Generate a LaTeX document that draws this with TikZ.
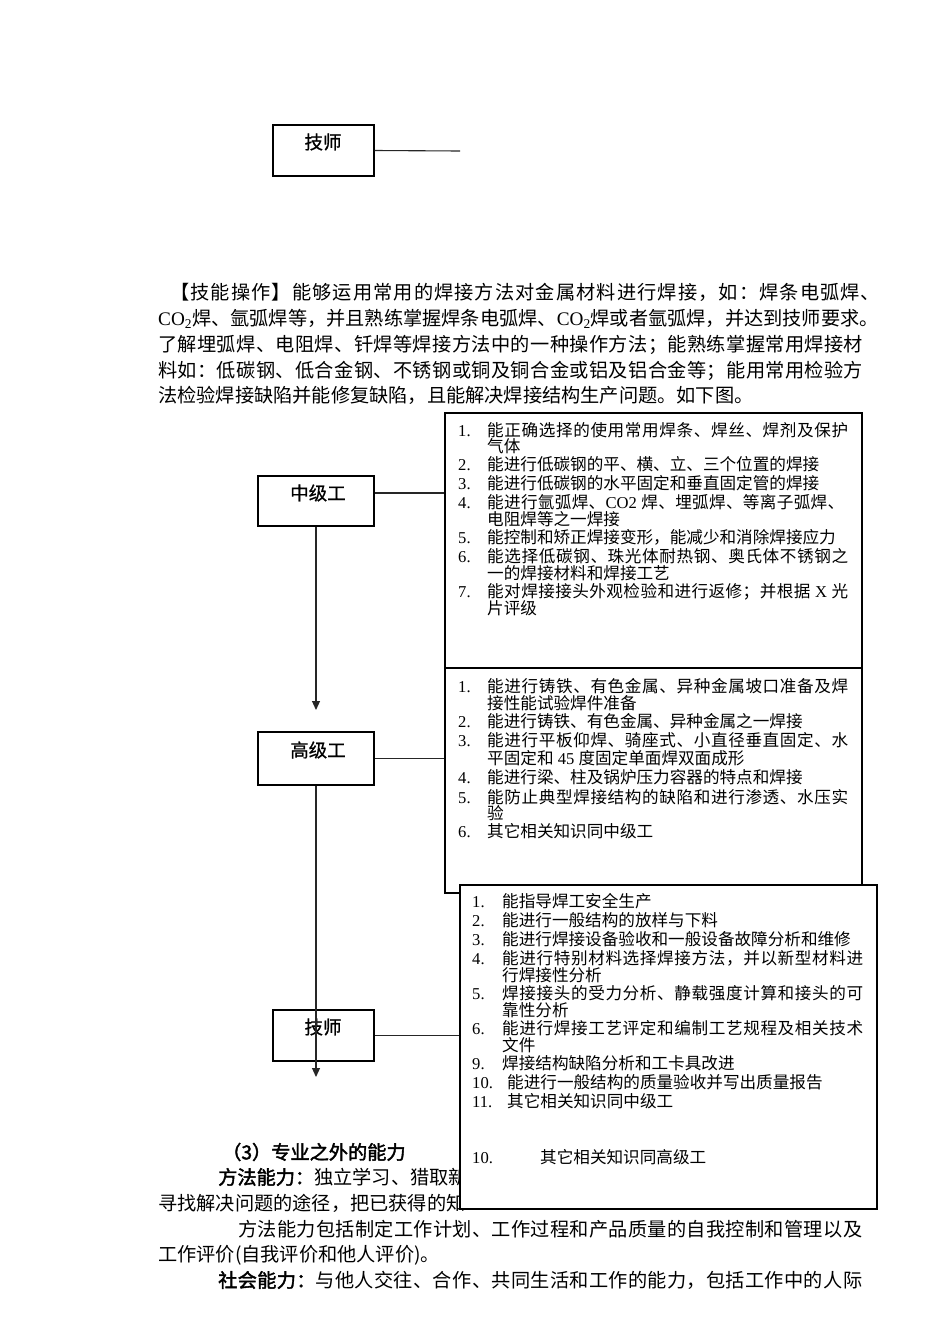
\documentclass[tikz,border=0pt]{standalone}
\usepackage{fontspec}
\setmainfont{Liberation Serif}
\newfontfamily\cjk{Noto Sans CJK SC}
\newfontfamily\cjkb[FakeBold=2]{Noto Sans CJK SC}
\newfontfamily\cjkl[FakeBold=0.7]{Noto Sans CJK SC}
\makeatletter
\newcommand\spreadto[2]{\hbox to #1{\@tfor\spr@c:=#2\do{{\spr@c}\hfil}\unskip}}
\makeatother
\usetikzlibrary{arrows.meta}
\tikzset{
  para/.style={anchor=base west, inner sep=0, font=\cjk\fontsize{19.2}{24}\selectfont},
  itm/.style={anchor=base west, inner sep=0, font=\cjk\fontsize{16.6}{20}\selectfont},
  num/.style={anchor=base west, inner sep=0, font=\rmfamily\fontsize{16.6}{20}\selectfont},
  lbl/.style={inner sep=0, font=\cjkl\fontsize{18.5}{22}\selectfont},
  box/.style={draw=black, line width=1.2pt, inner sep=0, fill=white},
  conn/.style={draw=black!85, line width=1.1pt},
  arr/.style={conn, -{Triangle[width=8pt,length=9pt]}}
}
\begin{document}
\begin{tikzpicture}[x=1pt,y=-1pt]
\useasboundingbox (0,0) rectangle (950,1344);
\fill[white] (0,0) rectangle (950,1344);

% top label box
\node[box, minimum width=101pt, minimum height=51pt] (t0) at (323.5,150.5) {};
\node[lbl] (t0l) at (323,142) {技师};
\coordinate (t0end) at (460,151);
\draw[conn] (t0.east) -- (t0end);

% paragraph
\node[para] (p1) at (170,299.3) {\spreadto{710pt}{【技能操作】能够运用常用的焊接方法对金属材料进行焊接，如：焊条电弧焊、}};
\node[para] (p2) at (158,325.3) {\spreadto{720pt}{{\rmfamily CO\textsubscript{2}}焊、氩弧焊等，并且熟练掌握焊条电弧焊、{\rmfamily CO\textsubscript{2}}焊或者氩弧焊，并达到技师要求。}};
\node[para] (p3) at (158,351.3) {\spreadto{705pt}{了解埋弧焊、电阻焊、钎焊等焊接方法中的一种操作方法；能熟练掌握常用焊接材}};
\node[para] (p4) at (158,377.3) {\spreadto{705pt}{料如：低碳钢、低合金钢、不锈钢或铜及铜合金或铝及铝合金等；能用常用检验方}};
\node[para] (p5) at (158,402.3) {法检验焊接缺陷并能修复缺陷，且能解决焊接结构生产问题。如下图。};

% lower text (partly hidden by box 3)
\node[para, font=\cjkb\fontsize{19.2}{24}\selectfont] (h3) at (222,1159.3) {（3）专业之外的能力};
\node[para] (q1) at (218,1184.3) {{\cjkb 方法能力：}独立学习、猎取新};
\node[para] (q2) at (158,1210.3) {寻找解决问题的途径，把已获得的知};
\node[para] (q3) at (238,1236.3) {\spreadto{624pt}{方法能力包括制定工作计划、工作过程和产品质量的自我控制和管理以及}};
\node[para] (q4) at (158,1261.3) {工作评价(自我评价和他人评价)。};
\node[para] (q5) at (218,1287.3) {\spreadto{644pt}{{\cjkb 社}{\cjkb 会}{\cjkb 能}{\cjkb 力}{\cjkb ：}与他人交往、合作、共同生活和工作的能力，包括工作中的人际}};

% level boxes
\node[box, fill=none, minimum width=116pt, minimum height=50pt] (mid) at (316,501) {};
\node[lbl] (midl) at (318,493) {中级工};
\node[box, fill=none, minimum width=116pt, minimum height=53pt] (hi) at (316,758.5) {};
\node[lbl] (hil) at (318,750) {高级工};
\node[box, fill=none, minimum width=101pt, minimum height=51pt] (t1) at (323.5,1035.5) {};
\node[lbl] (t1l) at (323,1027) {技师};

% right boxes
\node[box, minimum width=417pt, minimum height=255pt] (b1) at (653.5,540.5) {};
\node[box, minimum width=417pt, minimum height=225pt] (b2) at (653.5,780.5) {};
\node[box, minimum width=417pt, minimum height=324pt] (b3) at (668.5,1047) {};

% box 1 content
\foreach \y/\n [count=\k] in {430/1, 464/2, 483/3, 502/4, 537/5, 556/6, 591/7}
  \node[num] (b1n\k) at (458,\y+6.3) {\n.};
\foreach \y/\t [count=\k] in {
  430/{\spreadto{361pt}{能正确选择的使用常用焊条、焊丝、焊剂及保护}},
  446/{气体},
  464/{能进行低碳钢的平、横、立、三个位置的焊接},
  483/{能进行低碳钢的水平固定和垂直固定管的焊接},
  502/{\spreadto{357pt}{能进行氩弧焊、{\rmfamily CO2 }焊、埋弧焊、等离子弧焊、}},
  519/{电阻焊等之一焊接},
  537/{能控制和矫正焊接变形，能减少和消除焊接应力},
  556/{\spreadto{361pt}{能选择低碳钢、珠光体耐热钢、奥氏体不锈钢之}},
  573/{一的焊接材料和焊接工艺},
  591/{\spreadto{361pt}{能对焊接接头外观检验和进行返修；并根据{\rmfamily\ X }光}},
  608/{片评级}}
  \node[itm] (b1t\k) at (487,\y+6.3) {\t};

% box 2 content
\foreach \y/\n [count=\k] in {686/1, 721/2, 740/3, 777/4, 797/5, 831/6}
  \node[num] (b2n\k) at (458,\y+6.3) {\n.};
\foreach \y/\t [count=\k] in {
  686/{\spreadto{361pt}{能进行铸铁、有色金属、异种金属坡口准备及焊}},
  703/{接性能试验焊件准备},
  721/{能进行铸铁、有色金属、异种金属之一焊接},
  740/{\spreadto{361pt}{能进行平板仰焊、骑座式、小直径垂直固定、水}},
  758/{平固定和{\rmfamily\ 45 }度固定单面焊双面成形},
  777/{能进行梁、柱及锅炉压力容器的特点和焊接},
  797/{\spreadto{361pt}{能防止典型焊接结构的缺陷和进行渗透、水压实}},
  813/{验},
  831/{其它相关知识同中级工}}
  \node[itm] (b2t\k) at (487,\y+6.3) {\t};

% box 3 content
\foreach \y/\n [count=\k] in {901/1, 920/2, 939/3, 958/4, 993/5, 1028/6, 1063/9, 1082/10, 1101/11, 1157/10}
  \node[num] (b3n\k) at (472,\y+6.3) {\n.};
\foreach \y/\t [count=\k] in {
  901/{能指导焊工安全生产},
  920/{能进行一般结构的放样与下料},
  939/{能进行焊接设备验收和一般设备故障分析和维修},
  958/{\spreadto{361pt}{能进行特别材料选择焊接方法，并以新型材料进}},
  975/{行焊接性分析},
  993/{\spreadto{361pt}{焊接接头的受力分析、静载强度计算和接头的可}},
  1010/{靠性分析},
  1028/{\spreadto{361pt}{能进行焊接工艺评定和编制工艺规程及相关技术}},
  1045/{文件},
  1063/{焊接结构缺陷分析和工卡具改进}}
  \node[itm] (b3t\k) at (502,\y+6.3) {\t};
\node[itm] (b3t11) at (507,1088.3) {能进行一般结构的质量验收并写出质量报告};
\node[itm] (b3t12) at (507,1107.3) {其它相关知识同中级工};
\node[itm] (b3t13) at (540,1163.3) {其它相关知识同高级工};

% connectors
\coordinate (a1) at (316,710);
\coordinate (a2) at (316,1077);
\draw[conn] (mid.east |- midl) -- (b1.west |- midl);
\draw[conn] (hi.east) -- (b2.west |- hi.east);
\draw[conn] (t1.east) -- (b3.west |- t1.east);
\draw[arr] (mid.south) -- (a1);
\draw[arr] (hi.south) -- (a2);
\end{tikzpicture}
\end{document}
